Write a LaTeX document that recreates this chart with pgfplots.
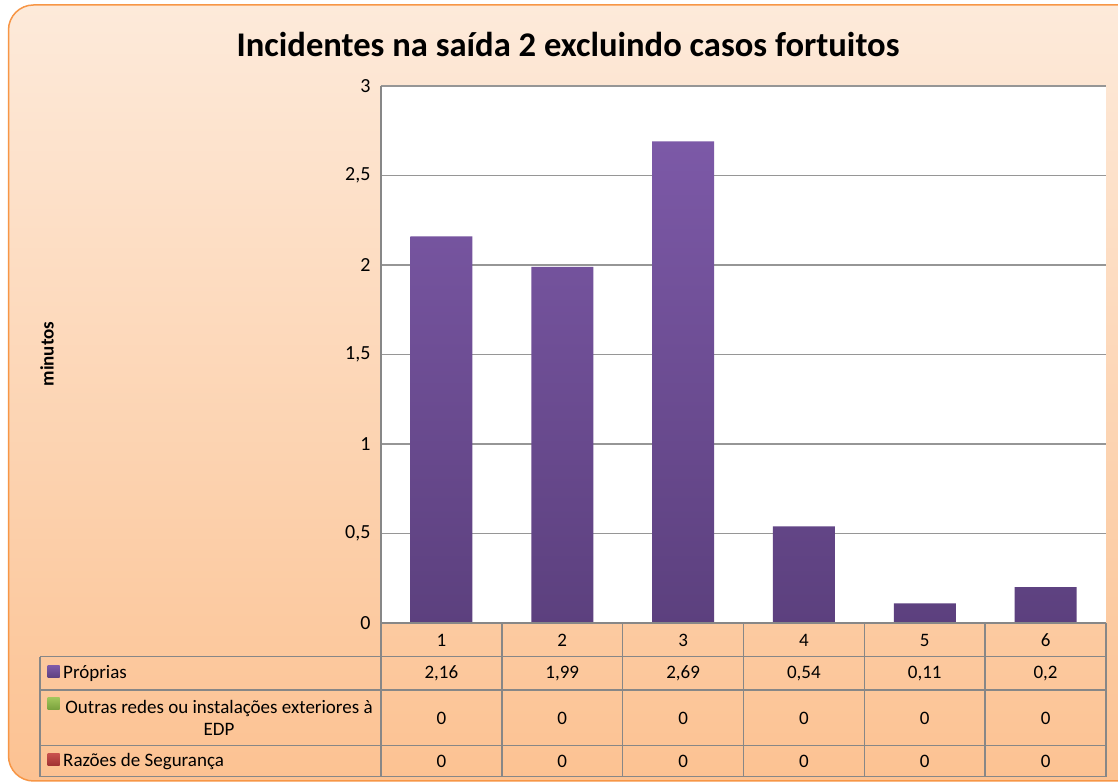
\documentclass[border=0pt]{standalone}
\usepackage{pgfplots}
\pgfplotsset{compat=1.18}
\usepackage{fontspec}
\setmainfont{Carlito}
\definecolor{bgtop}{RGB}{253,234,218}
\definecolor{bgbot}{RGB}{252,194,146}
\definecolor{framec}{RGB}{247,150,70}
\definecolor{gridc}{RGB}{150,150,150}
\definecolor{tabc}{RGB}{135,135,135}
\definecolor{barT}{RGB}{124,89,167}
\definecolor{barB}{RGB}{92,64,126}
\definecolor{grT}{RGB}{160,196,90}
\definecolor{grB}{RGB}{120,160,60}
\definecolor{rdT}{RGB}{200,80,77}
\definecolor{rdB}{RGB}{160,50,50}
\newcommand\tf{\fontsize{19}{21.7}\selectfont}
\begin{document}
\begin{tikzpicture}[x=1pt,y=1pt]
\useasboundingbox (0,0) rectangle (1118,783);
\fill[white] (0,0) rectangle (1118,783);
\shade[top color=bgtop,bottom color=bgbot] [rounded corners=25pt] (8.5,2) rectangle (1145,778);
\draw[framec,line width=1.5pt,rounded corners=25pt] (8.5,2) rectangle (1145,778);
\node[font=\fontsize{34.6}{40}\selectfont\bfseries] at (568,738) {Incidentes na saída 2 excluindo casos fortuitos};
\node[font=\fontsize{19}{22}\selectfont\bfseries,rotate=90] at (47,429) {minutos};
\begin{axis}[at={(381pt,160pt)},anchor=south west, scale only axis,
  width=725pt, height=537pt, xmin=0.5, xmax=6.5, ymin=0, ymax=3,
  ytick={0,0.5,1,1.5,2,2.5,3}, xtick=\empty,
  ymajorgrids, grid style={gridc,line width=1.5pt},
  axis background/.style={fill=white},
  axis lines*=left, axis line style={tabc,line width=1.5pt},
  major tick length=0pt,
  yticklabel style={font=\fontsize{20}{22}\selectfont, xshift=-7pt},
  /pgf/number format/.cd, use comma, assume math mode=true]
\addplot[ybar, bar width=62pt, draw=none, top color=barT, bottom color=barB]
  coordinates {(1,2.16) (2,1.99) (3,2.69) (4,0.54) (5,0.11) (6,0.2)};
\end{axis}
% data table
\begin{scope}[tabc,line width=1.4pt]
\draw (381,160) -- (1106,160);
\foreach \yy in {126.3,93,37.3,6.3} \draw (40,\yy) -- (1106,\yy);
\draw (40,126.3) -- (40,6.3);
\foreach \i in {0,...,6} \draw ({381+120.83*\i},160) -- ({381+120.83*\i},6.3);
\end{scope}
\foreach \v [count=\i] in {1,2,3,4,5,6}
  \node[font=\tf] at ({381+120.83*(\i-0.5)},143) {\v};
\foreach \v [count=\i] in {{2,16},{1,99},{2,69},{0,54},{0,11},{0,2}}
  \node[font=\tf] at ({381+120.83*(\i-0.5)},109.7) {\v};
\foreach \i in {1,...,6} {
  \node[font=\tf] at ({381+120.83*(\i-0.5)},65) {0};
  \node[font=\tf] at ({381+120.83*(\i-0.5)},21.8) {0};
}
\shade[top color=barT,bottom color=barB] (47.7,105) rectangle (59.7,117);
\shade[top color=grT,bottom color=grB] (47.7,73) rectangle (59.7,85);
\shade[top color=rdT,bottom color=rdB] (47.7,17.5) rectangle (59.7,29.5);
\node[font=\tf,anchor=west,inner sep=0pt] at (63,109.7) {Próprias};
\node[font=\tf,align=center,inner sep=0pt] at (219,65) {Outras redes ou instalações exteriores à\\EDP};
\node[font=\tf,anchor=west,inner sep=0pt] at (63,21.8) {Razões de Segurança};
\end{tikzpicture}
\end{document}
